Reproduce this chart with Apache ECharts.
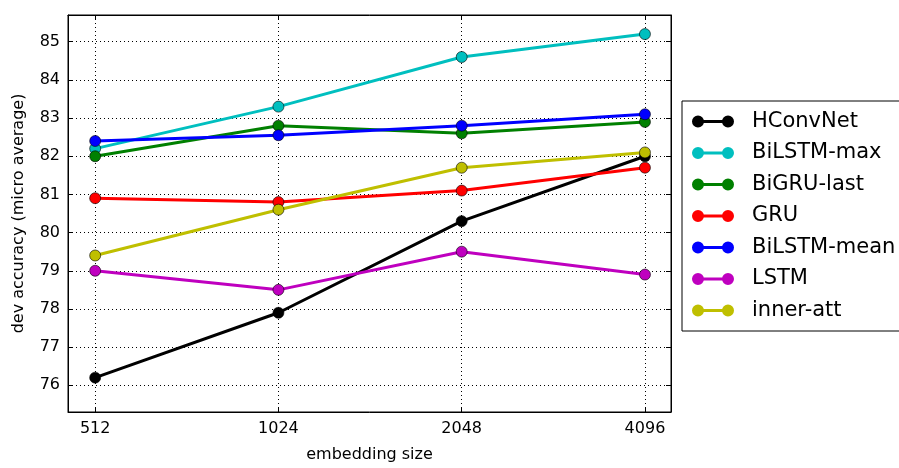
<!DOCTYPE html>
<html>
<head>
<meta charset="utf-8">
<script src="https://cdn.jsdelivr.net/npm/echarts@6/dist/echarts.min.js"></script>
<style>html,body{margin:0;padding:0;background:#fff}#c{width:899px;height:468px}</style>
</head>
<body>
<div id="c"></div>
<script>
const sizes = [512, 1024, 2048, 4096];
const seriesNames = ['HConvNet', 'BiLSTM-max', 'BiGRU-last', 'GRU', 'BiLSTM-mean', 'LSTM', 'inner-att'];
const hconvnet   = [76.2, 77.9, 80.3, 82.0];
const bilstmMax  = [82.2, 83.3, 84.6, 85.2];
const bigruLast  = [82.0, 82.8, 82.6, 82.9];
const gru        = [80.9, 80.8, 81.1, 81.7];
const bilstmMean = [82.4, 82.55, 82.8, 83.1];
const lstm       = [79.0, 78.5, 79.5, 78.9];
const innerAtt   = [79.4, 80.6, 81.7, 82.1];
const allValues = [hconvnet, bilstmMax, bigruLast, gru, bilstmMean, lstm, innerAtt];
const colors = ['#000000', '#00BFBF', '#008000', '#FF0000', '#0000FF', '#BF00BF', '#BFBF00'];

const FONT = 'DejaVu Sans';
const legendIcon = 'path://M0,6A6,6 0 1,1 12,6A6,6 0 1,1 0,6ZM30,6A6,6 0 1,1 42,6A6,6 0 1,1 30,6ZM11,4.5L31,4.5L31,7.5L11,7.5Z';

const chart = echarts.init(document.getElementById('c'), null, {renderer: 'canvas'});
const gridLine = {show: true, lineStyle: {color: '#000', type: [1, 3], width: 1}};
const xCommon = {
  type: 'log', logBase: 2, min: 462, max: 4520,
  axisLine: {show: true, lineStyle: {color: '#000', width: 1}},
  axisTick: {show: true, inside: true, length: 5, lineStyle: {color: '#000'}},
};
const yCommon = {
  type: 'value', min: 75.3, max: 85.7, splitNumber: 10,
  axisLine: {show: true, lineStyle: {color: '#000', width: 1}},
  axisTick: {show: true, inside: true, length: 5, lineStyle: {color: '#000'}},
};
const option = {
  animation: false,
  backgroundColor: '#fff',
  color: colors,
  grid: {left: 68, right: 228, top: 15, bottom: 51, show: true, borderColor: '#000', borderWidth: 1},
  xAxis: [
    Object.assign({}, xCommon, {
      position: 'bottom',
      name: 'embedding size', nameLocation: 'middle', nameGap: 35,
      nameTextStyle: {fontFamily: FONT, fontSize: 16, color: '#000'},
      axisLabel: {fontFamily: FONT, fontSize: 16, color: '#000', margin: 9, showMinLabel: false, showMaxLabel: false,
                  formatter: v => String(Math.round(v))},
      splitLine: gridLine
    }),
    Object.assign({}, xCommon, {position: 'top', axisLabel: {show: false}, splitLine: {show: false}})
  ],
  yAxis: [
    Object.assign({}, yCommon, {
      position: 'left',
      name: 'dev accuracy (micro average)', nameLocation: 'middle', nameGap: 41,
      nameTextStyle: {fontFamily: FONT, fontSize: 16, color: '#000'},
      axisLabel: {fontFamily: FONT, fontSize: 16, color: '#000', margin: 8, showMinLabel: false, showMaxLabel: false},
      splitLine: gridLine
    }),
    Object.assign({}, yCommon, {position: 'right', axisLabel: {show: false}, splitLine: {show: false}})
  ],
  legend: {
    orient: 'vertical', left: 682, top: 101,
    data: seriesNames,
    icon: legendIcon, itemWidth: 42, itemHeight: 12, itemGap: 10.5,
    padding: [10, 60, 10, 10],
    borderColor: '#000', borderWidth: 1, backgroundColor: '#fff',
    itemStyle: {borderWidth: 0},
    textStyle: {fontFamily: FONT, fontSize: 21, color: '#000', lineHeight: 21, padding: [0, 0, 0, 13]}
  },
  series: seriesNames.map((name, i) => ({
    name: name, type: 'line', xAxisIndex: 0, yAxisIndex: 0,
    data: sizes.map((s, j) => [s, allValues[i][j]]),
    symbol: 'circle', symbolSize: 11,
    lineStyle: {width: 3, color: colors[i]},
    itemStyle: {color: colors[i], borderColor: '#000', borderWidth: 0.6},
    emphasis: {disabled: true}
  }))
};
chart.setOption(option);
</script>
</body>
</html>
